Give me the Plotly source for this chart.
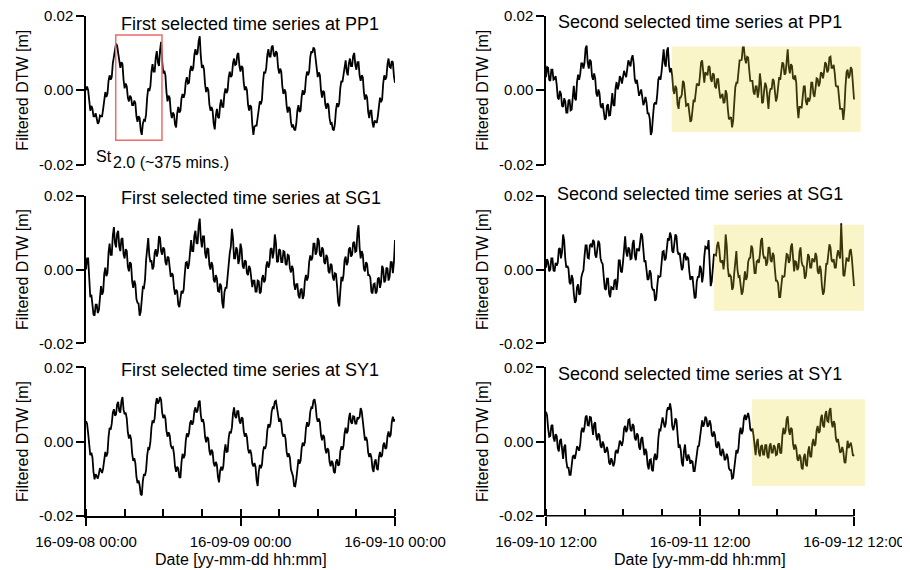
import pandas as pd
import plotly.graph_objects as go

# ---------------- data (filtered DTW, millimetres) ----------------
# *_mm      : samples on the 20-minute grid (00:00, 00:20, ...)
# *_mid_mm  : samples read half-way between them (00:10, 00:30, ...)
pp1_first_mm = [0.0, 0.0, -5.5, -5.0, -7.0, -7.5, -8.5, -7.0, -5.0, -0.5,
                -1.0, 4.0, 3.5, 9.0, 12.5, 9.5, 6.0, 7.0, 0.5, 1.0,
                -3.0, -2.0, -4.0, -3.5, -8.5, -7.5, -12.0, -8.0, -6.5, 0.5,
                1.0, 7.0, 5.0, 10.5, 6.5, 13.0, 4.5, 4.0, -3.0, -2.0,
                -7.5, -6.5, -10.0, -4.5, -5.5, -1.0, -1.0, 3.5, 2.0, 6.5,
                6.0, 11.0, 10.0, 14.5, 6.0, 5.5, -0.5, 0.0, -5.5, -5.5,
                -10.5, -5.0, -7.5, -2.5, -4.5, 0.5, 0.0, 5.0, 4.0, 8.5,
                7.0, 10.0, 5.0, 6.0, 0.0, 0.0, -5.5, -4.5, -12.0, -9.5,
                -7.5, -3.0, -2.5, 5.0, 6.0, 11.0, 9.0, 12.0, 9.0, 10.0,
                4.5, 5.0, -1.0, -0.5, -6.0, -5.0, -10.0, -10.5, -9.0, -4.0,
                -5.5, 0.0, -0.5, 5.0, 5.0, 10.5, 11.5, 8.5, 3.5, 4.0,
                -2.0, -0.5, -5.0, -4.0, -9.0, -10.5, -9.0, -3.5, -3.5, 2.5,
                4.0, 8.0, 4.0, 8.5, 6.5, 10.0, 5.5, 7.5, 2.5, 3.5,
                -2.5, -2.0, -7.5, -5.5, -10.0, -8.5, -7.0, -2.0, -2.5, 4.0,
                3.5, 8.5, 6.0, 7.5, 2.0]
pp1_first_mid_mm = [1.0, -3.8, -4.2, -7.0, -6.2, -9.0, -6.8, -7.0, -1.8, -1.8,
                    2.5, 2.8, 7.2, 9.8, 12.0, 6.8, 7.5, 2.8, 1.8, -2.0,
                    -1.5, -4.0, -2.8, -7.0, -7.0, -10.8, -9.0, -8.2, -2.0, -0.2,
                    5.0, 5.0, 8.8, 7.5, 10.8, 7.8, 5.2, -0.5, -1.5, -5.8,
                    -6.0, -9.2, -6.2, -6.0, -2.2, -2.0, 2.2, 1.8, 5.2, 5.2,
                    9.5, 9.5, 13.2, 9.2, 6.8, 1.5, 0.8, -3.8, -4.5, -9.0,
                    -6.8, -7.2, -4.0, -4.5, -1.0, -0.8, 3.5, 3.5, 7.2, 6.8,
                    9.5, 6.5, 6.5, 2.0, 1.0, -3.8, -4.0, -9.2, -9.8, -9.5,
                    -4.2, -3.8, 2.2, 4.5, 9.5, 9.0, 11.5, 9.5, 10.5, 6.2,
                    5.8, 1.0, 0.2, -4.2, -4.5, -8.5, -9.2, -10.8, -5.5, -5.8,
                    -1.8, -1.2, 3.2, 4.0, 8.8, 10.0, 11.0, 5.0, 4.8, 0.0,
                    -0.2, -3.8, -3.5, -7.5, -8.8, -10.8, -5.2, -4.5, 0.5, 2.2,
                    7.0, 5.0, 7.2, 6.5, 9.2, 6.8, 7.5, 4.0, 4.0, -0.5,
                    -1.2, -5.8, -5.5, -8.8, -8.2, -8.8, -3.5, -3.2, 1.8, 2.8,
                    7.0, 6.2, 7.8, 3.8]

sg1_first_mm = [0.0, 3.0, -7.5, -9.0, -12.5, -9.5, -11.0, -4.5, -6.0, 0.5,
                -1.0, 7.0, 4.0, 11.5, 6.0, 10.5, 5.0, 8.5, 3.0, 5.0,
                -0.5, 1.5, -5.0, -4.0, -9.0, -12.5, -7.5, -5.0, 2.5, 8.5,
                2.0, 0.0, 4.5, 3.5, 9.0, 5.0, 6.0, 2.0, 3.5, 0.0,
                -1.0, -5.0, -5.5, -9.5, -8.0, -6.5, -1.5, 2.0, 1.5, 8.0,
                5.0, 10.5, 7.0, 13.8, 6.0, 9.0, 3.0, 5.5, 0.0, 1.0,
                -3.5, -2.5, -6.0, -4.5, -10.5, -5.0, -2.0, 4.5, 11.0, 3.0,
                6.0, 1.5, 7.0, 1.0, 2.5, -1.0, 1.0, -3.5, -3.0, -6.0,
                -3.0, -6.5, -2.5, -3.5, 1.0, 0.5, 5.5, 3.0, 9.5, 2.0,
                5.5, 2.0, 5.0, 1.5, 4.0, 0.5, 1.0, -4.0, -4.0, -7.0,
                -5.5, -8.0, -3.0, -3.0, 2.0, 2.5, 7.0, 4.0, 8.5, 4.0,
                6.0, 2.0, 4.0, -0.5, 1.5, -2.0, -1.0, -4.5, -10.0, -2.0,
                -1.5, 3.5, 2.0, 6.0, 4.0, 7.5, 5.0, 12.0, 3.0, 4.0,
                -0.5, 1.5, -1.5, -6.0, -4.0, -6.5, -2.5, -5.0, 1.0, -3.5,
                0.5, -3.0, 2.0, -1.0, 8.0]
sg1_first_mid_mm = [3.0, -3.8, -6.8, -12.2, -9.5, -11.8, -6.2, -6.8, -1.2, -1.8,
                    4.5, 4.0, 9.2, 7.2, 9.8, 6.2, 8.2, 4.2, 5.5, 0.8,
                    2.0, -3.2, -3.0, -8.0, -9.2, -11.5, -4.8, -2.8, 7.0, 3.8,
                    2.5, 0.8, 5.5, 4.8, 8.5, 4.0, 5.5, 1.2, 3.2, -2.0,
                    -1.5, -6.8, -6.0, -10.2, -5.8, -5.5, 1.8, 0.2, 6.2, 5.0,
                    9.2, 7.2, 11.9, 8.4, 9.0, 4.5, 5.8, 1.2, 2.0, -2.8,
                    -1.5, -5.8, -3.8, -9.0, -6.2, -5.0, 2.8, 6.2, 8.5, 3.0,
                    5.2, 2.8, 5.5, 0.2, 2.2, -1.5, 0.2, -4.8, -3.0, -6.0,
                    -3.2, -6.0, -1.5, -2.8, 2.2, 1.5, 5.8, 4.8, 7.2, 2.2,
                    5.2, 2.0, 4.8, 1.2, 3.8, -0.8, 0.0, -5.5, -4.0, -7.8,
                    -5.2, -7.0, -1.5, -2.0, 3.8, 3.2, 7.0, 4.8, 7.8, 3.5,
                    5.5, 1.5, 3.2, -1.0, 1.2, -3.0, -1.2, -8.8, -4.5, -3.2,
                    2.5, 1.2, 5.5, 3.5, 7.2, 4.8, 10.0, 6.0, 5.0, 0.2,
                    2.0, -1.5, -2.2, -6.5, -3.8, -6.0, -2.2, -3.5, 0.2, -3.0,
                    0.2, -2.0, 2.0, 2.0]

sy1_first_mm = [5.5, 2.2, -3.7, -4.3, -10.2, -9.3, -8.7, -7.8, -7.2, -2.8,
                -3.2, 3.7, 4.8, 8.7, 7.3, 10.7, 7.8, 12.0, 7.3, 6.2,
                0.8, 0.7, -5.2, -5.8, -11.2, -11.8, -14.5, -8.8, -7.7, -1.8,
                -0.2, 5.7, 6.3, 11.7, 10.8, 11.2, 6.3, 6.2, 1.3, 1.7,
                -1.7, -3.3, -8.2, -7.3, -9.8, -3.3, -3.7, 2.2, 2.3, 5.7,
                5.3, 9.2, 8.3, 11.0, 5.3, 4.7, -0.2, 0.7, -3.7, -2.8,
                -6.7, -6.3, -11.0, -6.8, -6.7, -0.8, -2.7, 2.7, 3.8, 9.2,
                6.3, 8.2, 4.8, 6.2, 1.3, 1.2, -3.2, -3.3, -6.7, -6.8,
                -12.0, -6.3, -6.2, -1.3, -0.7, 4.7, 4.8, 9.2, 10.8, 9.2,
                5.3, 5.2, 1.3, 0.7, -4.2, -4.3, -8.7, -12.0, -10.2, -4.8,
                -5.2, -0.3, -0.2, 5.2, 4.8, 9.2, 11.0, 9.7, 5.3, 5.2,
                0.3, 1.2, -3.2, -2.3, -6.7, -5.8, -8.5, -4.8, -6.2, -1.3,
                -1.2, 3.7, 2.8, 7.7, 4.8, 6.7, 4.8, 6.2, 9.0, 5.2,
                0.3, 0.2, -4.2, -4.3, -8.2, -4.8, -7.7, -2.8, -3.7, -0.3,
                -1.7, 2.7, 1.8, 6.7, 6.0]
sy1_first_mid_mm = [4.8, -1.8, -3.0, -8.2, -8.8, -10.0, -7.2, -8.5, -4.0, -4.0,
                    1.2, 3.2, 7.8, 7.0, 10.0, 8.2, 10.9, 8.6, 7.8, 2.5,
                    1.8, -3.2, -4.5, -9.5, -10.5, -14.2, -10.6, -9.2, -3.8, -2.0,
                    3.8, 5.0, 10.0, 10.2, 12.0, 7.8, 7.2, 2.8, 2.5, -1.0,
                    -1.5, -6.8, -6.8, -9.6, -5.6, -4.5, 0.2, 1.2, 5.0, 4.5,
                    8.2, 7.8, 10.6, 7.2, 6.0, 1.2, 1.2, -2.5, -2.2, -5.8,
                    -5.5, -9.6, -7.9, -7.8, -2.8, -2.8, 1.0, 2.2, 7.5, 6.8,
                    8.2, 5.5, 6.5, 2.8, 2.2, -2.0, -2.2, -6.0, -5.8, -10.4,
                    -8.2, -7.2, -2.8, -2.0, 3.0, 3.8, 8.0, 9.0, 11.0, 6.2,
                    6.2, 2.2, 2.0, -2.8, -3.2, -7.5, -9.4, -12.1, -6.5, -6.0,
                    -1.8, -1.2, 3.5, 4.0, 8.0, 9.1, 11.4, 6.5, 6.2, 1.8,
                    1.8, -2.0, -1.8, -5.5, -5.2, -8.2, -5.6, -6.5, -2.8, -2.2,
                    2.2, 2.2, 6.2, 5.2, 6.8, 4.8, 6.5, 6.6, 8.1, 1.8,
                    1.2, -3.0, -3.2, -7.2, -5.5, -7.2, -4.2, -4.2, -1.0, -2.0,
                    1.5, 1.2, 5.2, 5.4]

pp1_second_mm = [3.5, 6.0, 2.5, 5.5, 3.0, 1.5, -2.5, -1.0, -4.5, -3.0,
                 -6.0, -2.5, -5.2, 1.2, -2.7, 4.2, 4.3, 7.2, 7.3, 12.0,
                 5.8, 7.7, 2.8, 3.2, -1.7, -0.8, -4.7, -5.3, -7.5, -3.8,
                 -6.7, -0.8, -4.2, 2.2, 1.3, 3.2, 3.3, 4.2, 5.8, 7.2,
                 8.5, 7.2, 1.8, 0.7, -0.7, -1.8, -3.2, -3.3, -6.2, -12.0,
                 -7.2, -3.3, -1.2, 3.7, 4.8, 11.0, 6.3, 11.5, 4.8, 4.0,
                 -1.0, 0.5, -5.0, -2.0, 2.5, -1.5, -4.0, -6.0, -8.0, -2.5,
                 -1.0, 1.5, 4.0, 8.0, 2.0, 4.5, 6.5, 3.0, 4.5, 1.0,
                 3.0, 0.0, -1.5, -3.5, 0.0, -5.0, -7.5, -10.0, -3.5, 2.0,
                 5.0, 8.0, 11.5, 8.5, 9.0, 5.5, 2.5, -0.5, 1.0, -2.0,
                 4.5, -3.5, 0.0, 1.0, -5.0, 0.5, 3.0, -1.0, -2.0, 3.5,
                 5.0, 7.0, 4.5, 11.0, 4.5, 6.5, 3.0, 2.0, -7.5, -4.5,
                 -2.0, 1.0, -4.0, -3.0, 2.0, -1.0, 0.5, 3.0, 2.0, 4.5,
                 5.0, 7.0, 5.5, 9.0, 6.0, 4.5, 1.0, -2.0, -5.0, -8.0,
                 1.0, 5.5, 4.0, 5.5, -2.5]
pp1_second_mid_mm = [6.2, 2.8, 5.5, 2.8, 3.8, -2.0, -0.2, -4.2, -2.2, -6.0,
                     -2.8, -5.4, -0.5, -2.2, 2.2, 2.8, 7.2, 5.8, 11.2, 7.4,
                     8.2, 3.8, 4.5, -0.8, 0.2, -4.2, -3.5, -7.9, -4.2, -6.8,
                     -2.2, -4.0, 0.5, 0.2, 3.8, 1.8, 5.2, 3.5, 8.0, 6.4,
                     9.4, 3.0, 2.8, -1.5, 0.2, -4.0, -1.8, -6.2, -7.6, -11.1,
                     -3.8, -3.8, 2.8, 2.8, 9.4, 7.2, 10.4, 6.6, 5.9, 0.0,
                     1.2, -3.8, -2.0, -1.2, 2.0, -4.2, -3.5, -8.5, -3.8, -3.2,
                     1.8, 1.2, 7.5, 3.5, 4.8, 4.0, 6.2, 2.2, 4.2, 0.5,
                     3.0, -2.2, -1.0, -3.2, -1.0, -7.8, -7.2, -8.2, 0.8, 2.0,
                     8.0, 8.2, 11.5, 7.2, 8.8, 2.5, 2.5, -1.2, 1.0, -0.2,
                     2.0, -3.2, 2.0, -3.5, -0.8, 0.2, 2.5, -3.0, 2.2, 2.8,
                     7.5, 4.2, 9.2, 6.2, 7.0, 3.2, 4.0, -4.2, -4.5, -4.8,
                     1.0, -3.0, -2.0, -2.0, 2.0, -1.8, 3.2, 1.0, 4.8, 3.2,
                     7.5, 4.8, 8.8, 6.0, 6.8, 1.2, 1.0, -5.0, -5.0, -5.0,
                     4.8, 3.2, 6.2, 0.0]

sg1_second_mm = [0.5, 2.0, 0.0, 3.0, -0.5, 1.0, 5.5, 3.0, 9.5, 3.0,
                 1.0, -3.5, -1.5, -6.5, -8.5, -4.0, -6.5, -1.0, 3.5, 6.5,
                 3.0, 7.0, 8.0, 4.0, 5.5, 7.0, 2.0, -2.0, -5.5, -2.5,
                 -7.5, -5.0, -3.0, -5.5, 2.5, -0.5, 2.0, 9.0, 3.5, 5.5,
                 3.0, 8.0, 2.5, 5.5, 7.5, 9.0, 2.0, 0.0, -2.5, -1.0,
                 -5.5, -8.5, -4.5, -2.0, 1.5, 5.0, 3.0, 8.5, 10.0, 5.0,
                 7.0, 9.0, 4.0, 2.0, 0.5, 4.5, 3.5, -0.5, -2.0, -5.0,
                 -7.5, -2.0, 1.0, -3.5, 3.5, 6.0, 8.0, -4.5, 1.0, 4.0,
                 6.5, 5.5, 2.0, 0.0, 9.5, 0.5, -1.5, -5.5, -1.0, 5.0,
                 -2.0, -4.5, -6.0, -0.5, -2.0, 3.0, 6.5, 2.0, -1.0, 2.5,
                 4.0, 8.5, 3.0, 1.0, 6.0, 2.5, 4.5, 0.0, -3.0, -7.5,
                 -4.5, -2.0, 1.5, 4.0, 2.5, 7.0, -0.5, 2.0, 0.5, 6.0,
                 1.0, -2.5, 2.0, 3.5, 0.5, 2.5, 4.5, -0.5, 1.0, -4.5,
                 -6.0, 1.5, 4.5, 6.0, 2.0, 0.5, 3.5, 4.0, 12.5, -1.5,
                 1.0, 2.5, 5.0, 3.0, -4.5]
sg1_second_mid_mm = [2.8, -0.5, 3.0, -0.2, 1.8, 1.8, 5.8, 4.8, 7.8, 0.5,
                     0.2, -4.0, -2.5, -9.0, -4.8, -6.8, -2.2, -0.2, 6.5, 3.2,
                     6.5, 6.0, 7.5, 3.2, 7.8, 3.0, 1.5, -5.2, -2.5, -6.5,
                     -4.8, -5.5, -2.8, -3.0, 2.5, -0.8, 7.0, 4.8, 6.0, 2.8,
                     7.0, 3.8, 5.5, 5.0, 9.8, 4.0, 2.5, -2.8, -0.2, -4.8,
                     -5.5, -8.0, -1.8, -1.8, 4.8, 2.5, 7.2, 7.8, 9.0, 4.5,
                     9.5, 5.0, 4.5, -0.2, 4.0, 2.5, 3.0, -2.8, -2.0, -7.8,
                     -3.2, -2.0, 0.2, -1.5, 6.2, 5.5, 3.2, -3.2, 4.0, 3.8,
                     7.5, 2.2, 2.5, 3.2, 6.5, -2.0, -2.0, -4.8, 3.5, 0.0,
                     -1.8, -6.8, -1.8, -2.8, 2.0, 3.2, 5.8, -1.0, 2.2, 1.8,
                     7.8, 4.2, 3.5, 2.0, 5.8, 2.0, 3.8, -3.0, -3.8, -7.5,
                     -1.8, -1.8, 4.2, 1.8, 6.2, 1.8, 2.2, -0.2, 4.8, 2.0,
                     0.8, -1.8, 4.2, 0.5, 3.0, 2.0, 3.5, -1.2, -0.2, -6.8,
                     -0.8, 1.5, 6.8, 2.5, 2.8, 0.5, 5.2, 3.0, 2.0, -1.8,
                     3.2, 2.2, 5.5, -2.2]

sy1_second_mm = [8.0, 3.5, 1.5, 4.5, 0.0, 1.5, -2.7, 0.7, -4.7, -0.8,
                 -7.2, -9.0, -6.7, -3.8, -3.2, -1.8, -0.7, 3.7, 3.8, 7.0,
                 4.3, 6.5, 1.8, 5.2, 0.3, 1.7, -1.7, -0.8, -2.7, -2.8,
                 -6.2, -5.3, -5.7, -2.3, -1.7, -0.3, 0.3, 4.2, 3.3, 6.0,
                 2.8, 4.2, 0.3, 1.7, -2.2, 1.2, -3.7, -2.8, -7.5, -4.8,
                 -8.0, -3.3, -4.2, 3.2, 5.3, 5.2, 4.8, 9.2, 10.3, 4.2,
                 4.3, 5.7, -1.7, -2.3, -6.7, -0.8, -5.2, -4.3, -5.2, -8.0,
                 -5.7, -1.3, 1.3, 5.7, 4.8, 6.2, 4.3, 4.7, 1.3, 1.7,
                 -1.7, -0.8, -3.7, -2.8, -4.7, -4.3, -7.7, -10.0, -7.2, -2.3,
                 -1.7, 3.7, 2.8, 7.2, 6.8, 6.2, 2.8, 1.7, -3.7, 0.7,
                 -4.0, -1.0, -3.5, -1.0, -4.5, -0.5, -3.0, -1.5, -3.5, -0.5,
                 -3.2, 3.7, 2.8, 6.8, 1.8, 3.2, -2.2, -1.8, -5.2, -4.3,
                 -7.5, -3.3, -6.7, -1.3, -4.2, 0.7, -0.7, 4.2, 2.8, 7.2,
                 3.8, 8.2, 5.3, 9.0, 3.8, 4.7, -0.2, -0.8, -2.7, -2.8,
                 -5.8, 0.2, -1.2, -1.8, -3.5]
sy1_second_mid_mm = [7.0, 1.3, 4.2, 1.0, 2.0, -1.8, 0.2, -3.2, -1.5, -5.2,
                     -6.9, -9.0, -4.0, -4.7, -1.3, -2.5, 2.7, 2.5, 6.6, 4.4,
                     6.6, 3.0, 4.7, 1.5, 2.2, -1.2, 0.0, -3.0, -1.5, -5.7,
                     -4.5, -6.7, -2.8, -3.2, 0.2, -1.2, 3.5, 2.5, 5.8, 3.2,
                     4.7, 1.0, 2.2, -1.5, 0.7, -2.5, -2.0, -6.3, -5.0, -7.6,
                     -4.5, -5.0, 0.7, 3.0, 6.5, 3.8, 8.2, 8.5, 8.5, 3.0,
                     6.2, 0.8, -0.8, -5.7, -2.5, -4.2, -3.5, -6.0, -5.4, -8.0,
                     -2.3, -1.2, 4.7, 4.0, 6.7, 4.0, 5.7, 1.8, 2.7, -1.2,
                     0.0, -3.5, -2.0, -5.0, -3.3, -7.2, -7.7, -9.8, -3.5, -3.2,
                     2.2, 2.0, 6.2, 5.8, 7.7, 3.3, 3.5, -2.2, -0.3, -2.9,
                     -1.3, -3.5, -1.0, -4.0, -1.3, -3.0, -1.0, -3.7, -0.8, -3.0,
                     1.5, 2.0, 6.0, 3.1, 3.7, -0.7, -0.8, -4.7, -3.5, -7.1,
                     -4.2, -6.2, -2.8, -4.0, -0.5, -1.2, 3.0, 2.3, 6.2, 4.3,
                     7.2, 5.5, 8.3, 5.2, 5.5, 1.0, 0.7, -3.0, -1.5, -5.5,
                     -1.6, -1.7, -0.3, -3.9]

first_start = "2016-09-08 00:00"
first_end = "2016-09-10 00:00"
second_start = "2016-09-10 12:00"
second_end = "2016-09-12 12:00"
second_view_end = "2016-09-12 13:52"
sample_step = "10min"

panel_titles = ["First selected time series at PP1", "Second selected time series at PP1",
                "First selected time series at SG1", "Second selected time series at SG1",
                "First selected time series at SY1", "Second selected time series at SY1"]

y_tick_vals = [-0.02, 0.0, 0.02]
y_tick_text = ["-0.02", "0.00", "0.02"]
first_tick_vals = ["2016-09-08 00:00", "2016-09-09 00:00", "2016-09-10 00:00"]
first_tick_text = ["16-09-08 00:00", "16-09-09 00:00", "16-09-10 00:00"]
second_tick_vals = ["2016-09-10 12:00", "2016-09-11 12:00", "2016-09-12 12:00"]
second_tick_text = ["16-09-10 12:00", "16-09-11 12:00", "16-09-12 12:00"]

# highlighted windows (time start, time end, DTW low, DTW high)
st_window = ("2016-09-08 04:37", "2016-09-08 11:48", -0.01345, 0.0148)
pp1_window = ("2016-09-11 07:35", "2016-09-12 13:02", -0.0112, 0.0117)
sg1_window = ("2016-09-11 14:11", "2016-09-12 13:33", -0.0112, 0.0121)
sy1_window = ("2016-09-11 20:06", "2016-09-12 13:42", -0.0120, 0.0114)


def merge_samples(grid, mid):
    out = []
    for g, m in zip(grid, mid):
        out.extend([g, m])
    out.append(grid[-1])
    return out


series = [merge_samples(pp1_first_mm, pp1_first_mid_mm),
          merge_samples(pp1_second_mm, pp1_second_mid_mm),
          merge_samples(sg1_first_mm, sg1_first_mid_mm),
          merge_samples(sg1_second_mm, sg1_second_mid_mm),
          merge_samples(sy1_first_mm, sy1_first_mid_mm),
          merge_samples(sy1_second_mm, sy1_second_mid_mm)]

# ---------------- figure ----------------
FONT = "Liberation Sans, Arial, sans-serif"
OFF = 8                     # page margin around the plot div
W, H = 910 - OFF, 570 - OFF

def px_x(p):
    return (p - OFF) / W

def px_y(p):
    return 1 - (p - OFF) / H

col_x = [(px_x(86), px_x(395)), (px_x(546), px_x(866))]
row_y = [(px_y(164.7), px_y(15.7)), (px_y(343.3), px_y(195.7)), (px_y(515.7), px_y(367.3))]

fig = go.Figure()
layout = dict(
    width=W, height=H,
    margin=dict(l=0, r=0, t=0, b=0, autoexpand=False),
    paper_bgcolor="white", plot_bgcolor="white",
    showlegend=False,
    font=dict(family=FONT, size=15, color="black"),
)

shapes = []
annotations = []

for k in range(6):
    row, col = divmod(k, 2)
    n = k + 1
    xa = "xaxis" if n == 1 else f"xaxis{n}"
    ya = "yaxis" if n == 1 else f"yaxis{n}"
    xr = "x" if n == 1 else f"x{n}"
    yr = "y" if n == 1 else f"y{n}"
    start = first_start if col == 0 else second_start
    vals = series[k]
    times = pd.date_range(start, periods=len(vals), freq=sample_step)
    fig.add_trace(go.Scatter(x=times, y=[v / 1000.0 for v in vals], mode="lines",
                             line=dict(color="black", width=1.8), xaxis=xr, yaxis=yr,
                             hoverinfo="skip"))
    bottom = row == 2
    xcfg = dict(domain=list(col_x[col]), anchor=yr, type="date", automargin=False,
                range=[first_start, first_end] if col == 0 else [second_start, second_view_end],
                showgrid=False, zeroline=False, fixedrange=True, ticklabeloverflow="allow")
    if bottom:
        xcfg.update(showline=(col == 0), linecolor="black", linewidth=1.5,
                    tickmode="array",
                    tickvals=first_tick_vals if col == 0 else second_tick_vals,
                    ticktext=first_tick_text if col == 0 else second_tick_text,
                    ticks="outside", ticklen=9, tickwidth=1.5, tickcolor="black",
                    ticklabelstandoff=3,
                    tickfont=dict(size=15, family=FONT, color="black"),
                    minor=dict(ticks="inside", ticklen=7, tickwidth=1.5, tickcolor="black",
                               dtick=6 * 3600 * 1000, tick0="2016-09-08 00:00"))
    else:
        xcfg.update(showline=False, showticklabels=False, ticks="")
    layout[xa] = xcfg
    layout[ya] = dict(domain=list(row_y[row]), anchor=xr, range=[-0.02, 0.02], automargin=False,
                      tickmode="array", tickvals=y_tick_vals, ticktext=y_tick_text,
                      ticks="outside", ticklen=8, tickwidth=1.5, tickcolor="black",
                      showline=True, linecolor="black", linewidth=1.5,
                      showgrid=False, zeroline=False, fixedrange=True, ticklabeloverflow="allow",
                      tickfont=dict(size=15, family=FONT, color="black"),
                      title=dict(text="Filtered DTW [m]", font=dict(size=16, family=FONT, color="black"),
                                 standoff=6))

# panel titles (placed inside each panel near the top)
title_pos = [(250, 23), (700, 21), (251, 196.5), (700, 192.5), (250, 368.5), (700, 372.5)]
for k, (tx, ty) in enumerate(title_pos):
    annotations.append(dict(text=panel_titles[k], x=px_x(tx), y=px_y(ty + 1), xref="paper", yref="paper",
                            xanchor="center", yanchor="middle", showarrow=False,
                            font=dict(size=18, family=FONT, color="black")))

# x axis titles
annotations.append(dict(text="Date [yy-mm-dd hh:mm]", x=px_x(240.5), y=px_y(559), xref="paper", yref="paper",
                        xanchor="center", yanchor="middle", showarrow=False,
                        font=dict(size=16, family=FONT, color="black")))
annotations.append(dict(text="Date [yy-mm-dd hh:mm]", x=px_x(700), y=px_y(559), xref="paper", yref="paper",
                        xanchor="center", yanchor="middle", showarrow=False,
                        font=dict(size=16, family=FONT, color="black")))

# St label
annotations.append(dict(text="St", x=px_x(114), y=px_y(156), xref="paper", yref="paper",
                        xanchor="right", yanchor="middle", showarrow=False,
                        font=dict(size=16, family=FONT, color="black")))
annotations.append(dict(text="2.0 (~375 mins.)", x=px_x(111), y=px_y(162.5), xref="paper", yref="paper",
                        xanchor="left", yanchor="middle", showarrow=False,
                        font=dict(size=16, family=FONT, color="black")))

# red box around St2.0
shapes.append(dict(type="rect", xref="x", yref="y", x0=st_window[0], x1=st_window[1],
                   y0=st_window[2], y1=st_window[3], line=dict(color="#f06a6a", width=1.5),
                   fillcolor="rgba(0,0,0,0)", layer="above"))

# yellow highlight windows (drawn over the lines)
for win, (xr, yr) in zip([pp1_window, sg1_window, sy1_window], [("x2", "y2"), ("x4", "y4"), ("x6", "y6")]):
    shapes.append(dict(type="rect", xref=xr, yref=yr, x0=win[0], x1=win[1], y0=win[2], y1=win[3],
                       line=dict(width=0), fillcolor="rgba(232,216,40,0.25)", layer="above"))

# bottom-right x axis line (ends at the last labelled tick)
shapes.append(dict(type="line", xref="x6", yref="paper", x0=second_start, x1=second_end,
                   y0=row_y[2][0], y1=row_y[2][0], line=dict(color="black", width=1.5)))

layout["shapes"] = shapes
layout["annotations"] = annotations
fig.update_layout(**layout)
fig.write_html("out.html")
